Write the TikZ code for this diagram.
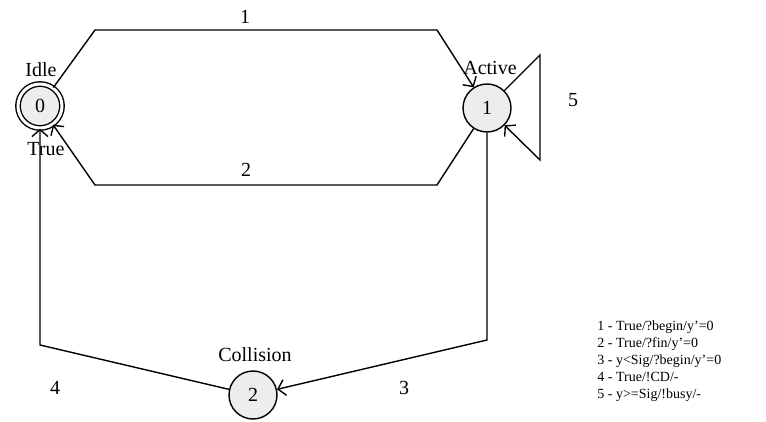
\documentclass[tikz,border=0pt]{standalone}
\usepackage{fontspec}
\setmainfont{Liberation Serif}
\usetikzlibrary{arrows.meta,positioning}

\begin{document}
\begin{tikzpicture}[
        x=0.5pt, y=-0.5pt,
        state/.style={
            circle, draw=black, fill=black!7, line width=0.7pt,
            minimum size=24pt, inner sep=0pt,
            font=\fontsize{10}{12}\selectfont
        },
        initial/.style={
            state, minimum size=22pt, double, double distance=1.5pt
        },
        tag/.style={font=\fontsize{10}{12}\selectfont, inner sep=1pt},
        trans/.style={-{Straight Barb[length=3.5pt,width=8pt]}, line width=0.7pt, draw=black},
        legend/.style={font=\fontsize{7}{8.5}\selectfont, align=left, inner sep=0pt}
    ]
    \useasboundingbox (0,0) rectangle (766,422);

    % States
    \node[initial] (s0) at (40,106) {0};
    \node[state] (s1) at (487,108) {1};
    \node[state] (s2) at (253,395) {2};

    % State names
    \node[tag] (idle) at (41,70) {Idle};
    \node[tag] (active) at (490,68) {Active};
    \node[tag] (coll) at (255,355) {Collision};
    \node[tag] (true) at (46,149) {True};

    % Transitions
    \draw[trans] (s0) -- (95,30) -- (437,30) -- (s1);
    \draw[trans] (s1) -- (437,185) -- (95,185) -- (s0);
    \draw[trans] (s1) -- (487,340) -- (s2);
    \draw[trans] (s2) -- (40,345) -- (s0);
    \draw[trans] (s1) -- (540,55) -- (540,160) -- (s1);

    % Transition numbers
    \node[tag] (t1) at (245,17) {1};
    \node[tag] (t2) at (246,170) {2};
    \node[tag] (t3) at (404,388) {3};
    \node[tag] (t4) at (55,388) {4};
    \node[tag] (t5) at (573,100) {5};

    % Legend
    \node[legend, anchor=north west] (key) at (597,320) {1 - True/?begin/y'=0\\2 - True/?fin/y'=0\\3 - y<Sig/?begin/y'=0\\4 - True/!CD/-\\5 - y>=Sig/!busy/-};
\end{tikzpicture}
\end{document}
